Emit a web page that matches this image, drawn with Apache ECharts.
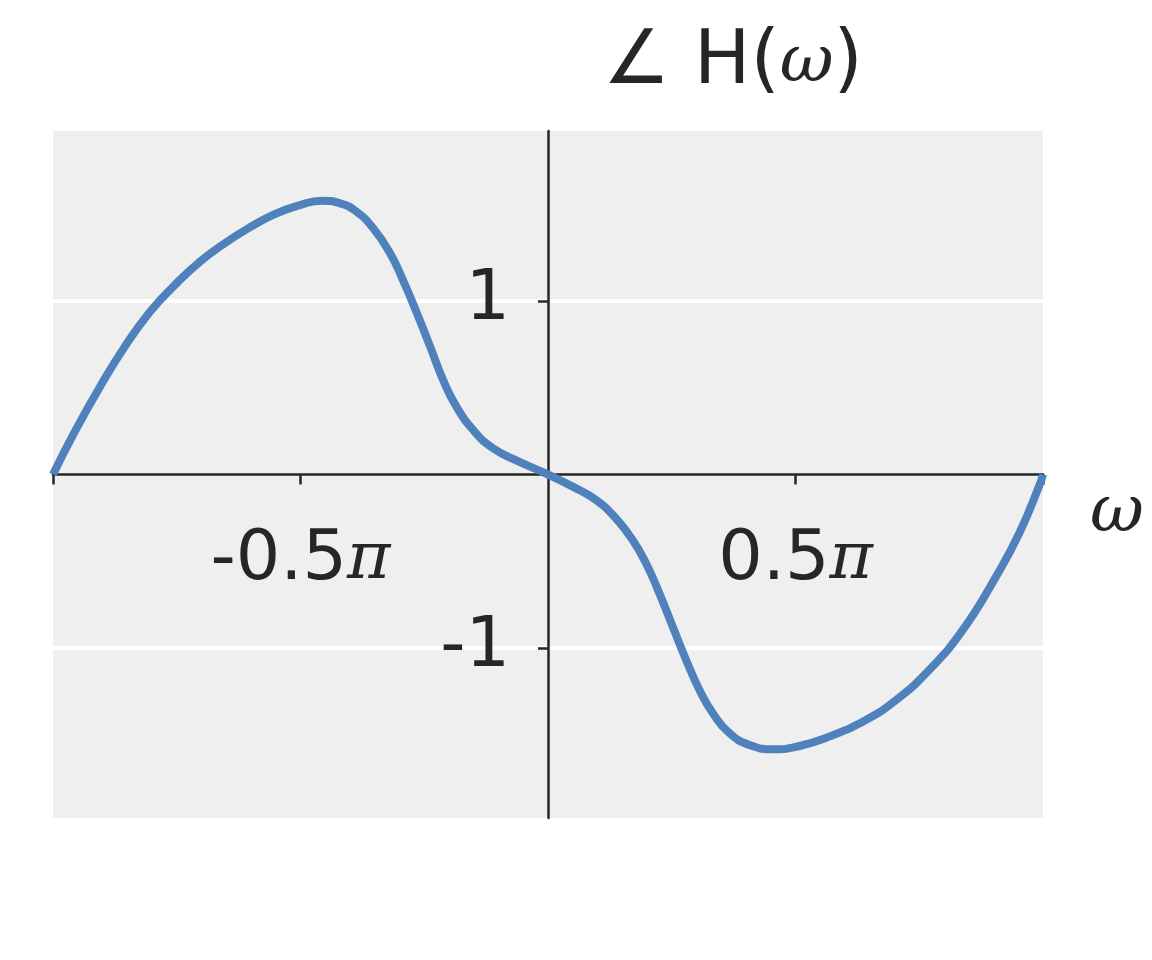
<!DOCTYPE html>
<html><head><meta charset="utf-8">
<script src="https://cdn.jsdelivr.net/npm/echarts@6/dist/echarts.min.js"></script>
<style>html,body{margin:0;padding:0;background:#fff}#c{width:1152px;height:960px}</style>
</head><body><div id="c"></div>
<script>
// frequency in units of pi
const omega = [-1, -0.956, -0.905, -0.855, -0.804, -0.754, -0.703, -0.653, -0.602, -0.552, -0.501, -0.457, -0.420, -0.387, -0.353, -0.319, -0.293, -0.266, -0.238, -0.212, -0.185, -0.151, -0.111, -0.063, 0,
  0.050, 0.097, 0.137, 0.171, 0.198, 0.225, 0.252, 0.279, 0.306, 0.333, 0.367, 0.407, 0.458, 0.508, 0.568, 0.636, 0.703, 0.770, 0.838, 0.905, 0.952, 0.993, 1];
// phase of H(omega), radians
const phase = [0, 0.247, 0.506, 0.737, 0.938, 1.092, 1.227, 1.333, 1.425, 1.501, 1.553, 1.578, 1.563, 1.515, 1.419, 1.275, 1.121, 0.938, 0.737, 0.545, 0.391, 0.256, 0.151, 0.080, 0,
  -0.070, -0.147, -0.252, -0.378, -0.512, -0.685, -0.877, -1.069, -1.242, -1.376, -1.492, -1.559, -1.584, -1.565, -1.511, -1.425, -1.300, -1.127, -0.896, -0.589, -0.339, -0.060, 0];

const xTickValues = [-1, -0.5, 0.5, 1];
const xLabelValues = [-0.5, 0.5];
const xLabelText = ['-0.5', '0.5'];
const yTickValues = [-1, 1];
const yLabelText = ['-1', '1'];
const titleParts = ['∠ H(', 'ω', ')'];
const xName = 'ω';

const ink = '#262626';
const yMin = -1.98, yMax = 1.98;
const chart = echarts.init(document.getElementById('c'), null, {renderer: 'canvas'});
const data = omega.map((w, i) => [w, phase[i]]);

const G = {left: 53, right: 109, top: 131, bottom: 142};
const plotW = 1152 - G.left - G.right, plotH = 960 - G.top - G.bottom;
const zeroY = G.top + plotH * yMax / (yMax - yMin);
const zeroX = G.left + plotW / 2;

chart.setOption({
  animation: false,
  backgroundColor: '#ffffff',
  title: {
    text: `{a|${titleParts[0]}}{w|${titleParts[1]}}{a|${titleParts[2]}}`,
    left: 598, top: 21,
    textStyle: {
      fontWeight: 'normal',
      rich: {
        a: {fontFamily: 'DejaVu Sans', fontSize: 75, fontWeight: 'normal', color: ink},
        w: {fontFamily: 'DejaVu Serif', fontStyle: 'italic', fontWeight: 'normal', fontSize: 66, color: ink}
      }
    }
  },
  graphic: [{
    type: 'text', left: G.left + plotW + 47, top: zeroY + 6,
    style: {text: xName, font: 'italic 66px "DejaVu Serif"', fill: ink}
  }],
  grid: [
    {left: G.left, right: G.right, top: G.top, bottom: G.bottom, show: true, backgroundColor: '#efefef', borderWidth: 0, containLabel: false, outerBoundsMode: 'none'},
    {left: G.left, right: G.right, top: G.top, bottom: 960 - zeroY, containLabel: false, outerBoundsMode: 'none'},
    {left: zeroX, right: G.right, top: G.top, bottom: G.bottom, containLabel: false, outerBoundsMode: 'none'}
  ],
  xAxis: [
    {gridIndex: 0, type: 'value', min: -1, max: 1, axisLine: {show: false}, axisTick: {show: false}, axisLabel: {show: false}, splitLine: {show: false}},
    {
      gridIndex: 1, type: 'value', min: -1, max: 1, position: 'bottom',
      axisLine: {show: true, onZero: false, lineStyle: {color: ink, width: 2.5}},
      axisTick: {show: true, length: 10, lineStyle: {color: ink, width: 2.5}, customValues: xTickValues},
      axisLabel: {
        margin: 51, customValues: xLabelValues,
        formatter: (v) => {
          const i = xLabelValues.indexOf(v);
          return i < 0 ? '' : `{n|${xLabelText[i]}}{p|π}`;
        },
        rich: {
          n: {fontFamily: 'DejaVu Sans', fontSize: 70, color: ink},
          p: {fontFamily: 'DejaVu Serif', fontStyle: 'italic', fontSize: 66, color: ink}
        }
      },
      splitLine: {show: false}
    },
    {gridIndex: 2, type: 'value', min: 0, max: 1, show: false}
  ],
  yAxis: [
    {
      gridIndex: 0, type: 'value', min: yMin, max: yMax,
      axisLine: {show: false}, axisLabel: {show: false},
      axisTick: {show: false, customValues: yTickValues},
      splitLine: {show: true, lineStyle: {color: '#ffffff', width: 4}}
    },
    {gridIndex: 1, type: 'value', min: 0, max: 1, show: false},
    {
      gridIndex: 2, type: 'value', min: yMin, max: yMax, position: 'left',
      axisLine: {show: true, onZero: false, lineStyle: {color: ink, width: 2.5}},
      axisTick: {show: true, length: 10, lineStyle: {color: ink, width: 2.5}, customValues: yTickValues},
      axisLabel: {
        margin: 38, customValues: yTickValues,
        formatter: (v) => {
          const i = yTickValues.indexOf(v);
          return i < 0 ? '' : yLabelText[i];
        },
        fontFamily: 'DejaVu Sans', fontSize: 70, color: ink, padding: [0, 0, 8, 0]
      },
      splitLine: {show: false}
    }
  ],
  series: [{
    type: 'line', xAxisIndex: 0, yAxisIndex: 0, data: data, showSymbol: false, smooth: 0.5,
    lineStyle: {color: '#4f81bd', width: 8}, z: 5
  }]
});
</script></body></html>
